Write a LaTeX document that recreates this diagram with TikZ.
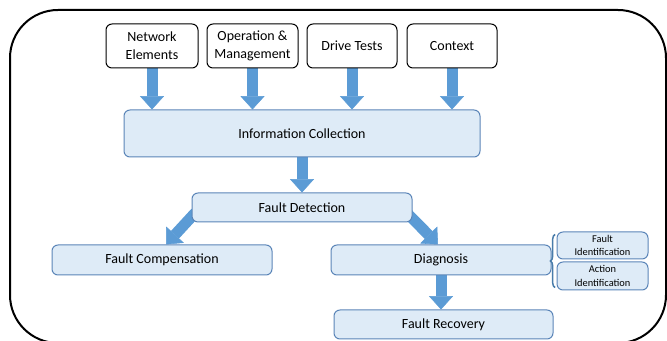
\documentclass[tikz,border=0pt]{standalone}
\usepackage{fontspec}
\setmainfont{Carlito}
\usetikzlibrary{arrows.meta,decorations.pathreplacing,calc,backgrounds}
\definecolor{boxfill}{HTML}{DEEBF7}
\definecolor{boxdraw}{HTML}{5B85B8}
\definecolor{arrfill}{HTML}{5B9BD5}
\begin{document}
\begin{tikzpicture}[x=0.75pt,y=-0.75pt,
  src/.style={draw=black, line width=0.75pt, rounded corners=4.5pt, fill=white,
    inner sep=0pt, align=center, font=\fontsize{10.5}{13.5}\selectfont},
  bluebox/.style={draw=boxdraw, line width=0.75pt, rounded corners=4.5pt, fill=boxfill,
    inner sep=0pt, align=center, font=\fontsize{10.5}{13.5}\selectfont},
  smallbox/.style={bluebox, font=\fontsize{7.8}{10}\selectfont},
  blk/.style={draw=arrfill, line width=8.25pt,
    -{Triangle[width=18pt,length=10pt,line width=0.4pt]}},
  brc/.style={draw=arrfill!80!black, line width=1.1pt, decorate,
    decoration={brace, amplitude=3.5pt}}
]
\clip (0,0) rectangle (667,341);
\draw[line width=1.5pt, rounded corners=36pt] (10,10) rectangle (666,343);

\node[src, minimum width=92*0.75pt, minimum height=44*0.75pt] (ne) at (152,46) {Network\\Elements};
\node[src, minimum width=91*0.75pt, minimum height=44*0.75pt] (om) at (252.5,46) {Operation \&\\Management};
\node[src, minimum width=90*0.75pt, minimum height=44*0.75pt] (dt) at (352,46) {Drive Tests};
\node[src, minimum width=90*0.75pt, minimum height=44*0.75pt] (ctx) at (452,46) {Context};

\node[bluebox, minimum width=356*0.75pt, minimum height=47*0.75pt] (ic) at (302,133.5) {Information Collection};
\node[bluebox, minimum width=220*0.75pt, minimum height=29*0.75pt] (fd) at (302,207.5) {Fault Detection};
\node[bluebox, minimum width=220*0.75pt, minimum height=30*0.75pt] (fc) at (162,260) {Fault Compensation};
\node[bluebox, minimum width=220*0.75pt, minimum height=30*0.75pt] (dg) at (441,260) {Diagnosis};
\node[smallbox, minimum width=91*0.75pt, minimum height=27*0.75pt] (fi) at (602.5,245.5) {Fault\\Identification};
\node[smallbox, minimum width=91*0.75pt, minimum height=28*0.75pt] (ai) at (602.5,276) {Action\\Identification};
\node[bluebox, minimum width=219*0.75pt, minimum height=29*0.75pt] (fr) at (443.5,324.5) {Fault Recovery};

\begin{scope}[on background layer]
\draw[blk] (ne.south) -- (ne.south |- ic.north);
\draw[blk] (om.south) -- (om.south |- ic.north);
\draw[blk] (dt.south) -- (dt.south |- ic.north);
\draw[blk] (ctx.south) -- (ctx.south |- ic.north);
\draw[blk] (ic.south) -- (ic.south |- fd.north);
\draw[blk] ($(fd.south west)+(4,-10)$) -- ($(fc.north)+(4,0)$);
\draw[blk] ($(fd.south east)+(-6,-10)$) -- ($(dg.north)+(-3,0)$);
\draw[blk] (dg.south) -- (dg.south |- fr.north);
\end{scope}

\coordinate (bb) at ($(ai.south west)+(-1.5,-3)$);
\coordinate (bt) at ($(fi.north west)+(-1.5,3)$);
\draw[brc] (bb) -- (bt);
\end{tikzpicture}
\end{document}
